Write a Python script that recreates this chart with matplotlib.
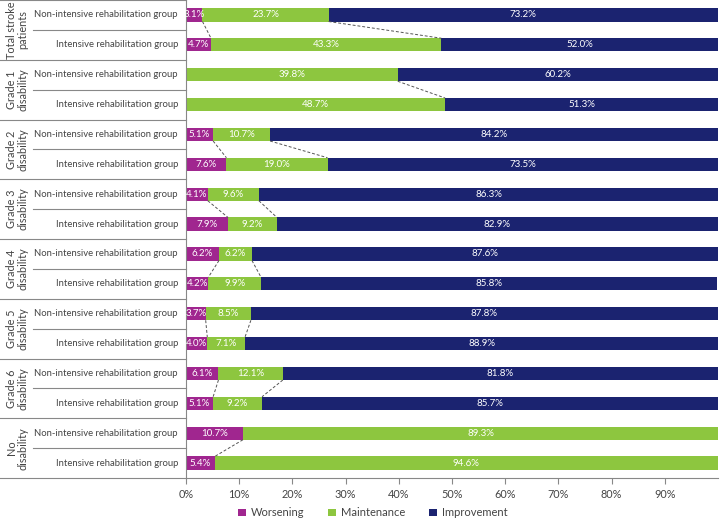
import matplotlib.pyplot as plt
import matplotlib.transforms as mtransforms
import numpy as np

plt.rcParams['font.family'] = ['Lato', 'DejaVu Sans']

groups = ["Total stroke\npatients", "Grade 1\ndisability", "Grade 2\ndisability",
          "Grade 3\ndisability", "Grade 4\ndisability", "Grade 5\ndisability",
          "Grade 6\ndisability", "No\ndisability"]
rows = ["Non-intensive rehabilitation group", "Intensive rehabilitation group"]

worsening = [3.1, 4.7, 0, 0, 5.1, 7.6, 4.1, 7.9, 6.2, 4.2, 3.7, 4.0, 6.1, 5.1, 10.7, 5.4]
maintenance = [23.7, 43.3, 39.8, 48.7, 10.7, 19.0, 9.6, 9.2, 6.2, 9.9, 8.5, 7.1, 12.1, 9.2, 89.3, 94.6]
improvement = [73.2, 52.0, 60.2, 51.3, 84.2, 73.5, 86.3, 82.9, 87.6, 85.8, 87.8, 88.9, 81.8, 85.7, 0, 0]

series = ["Worsening", "Maintenance", "Improvement"]
colors = ["#a0268f", "#8dc63f", "#1b2370"]

fig = plt.figure(figsize=(7.2, 5.22), dpi=100)
ax = fig.add_axes([186 / 720, 1 - 478 / 522, 532 / 720, 478 / 522])

y = np.arange(len(worsening))
h = 0.44
data = [np.array(worsening), np.array(maintenance), np.array(improvement)]
left = np.zeros(len(y))
for vals, col, name in zip(data, colors, series):
    ax.barh(y, vals, left=left, height=h, color=col, label=name)
    for yi, v, l in zip(y, vals, left):
        if v > 0:
            ax.text(l + v / 2, yi, f"{v:.1f}%", ha="center", va="center",
                    color="white", fontsize=7)
    left = left + vals

# dashed connectors between paired bars
cum1 = data[0]
cum2 = data[0] + data[1]
for g in range(len(groups)):
    a, b = 2 * g, 2 * g + 1
    for cum in (cum1, cum2):
        if 0 < cum[a] < 99.9 or 0 < cum[b] < 99.9:
            ax.plot([cum[a], cum[b]], [a + h / 2, b - h / 2], ls=(0, (3, 2)),
                    color="#555555", lw=0.7)

ax.set_xlim(0, 100)
ax.set_ylim(len(y) - 0.5, -0.5)
ax.set_yticks([])
ax.set_xticks(np.arange(0, 100, 10))
ax.set_xticklabels([f"{t}%" for t in range(0, 100, 10)], fontsize=7.8, color="#444444")
ax.tick_params(axis="x", length=4, color="#888888", pad=4)
for s in ["top", "right"]:
    ax.spines[s].set_visible(False)
for s in ["left", "bottom"]:
    ax.spines[s].set_color("#888888")
    ax.spines[s].set_linewidth(0.8)

# left table of labels
tr = mtransforms.blended_transform_factory(fig.transFigure, ax.transData)
x_box = 186 / 720
x_mid = 33 / 720
for g in range(len(groups)):
    top = 2 * g - 0.5
    ax.plot([0, x_box], [top, top], transform=tr, color="#888888", lw=0.8, clip_on=False)
    ax.plot([x_mid, x_box], [top + 1, top + 1], transform=tr, color="#888888", lw=0.8,
            clip_on=False)
    ax.text(17 / 720, 2 * g + 0.5, groups[g], transform=tr, rotation=90, ha="center",
            va="center", fontsize=7.8, color="#444444", linespacing=1.1)
    for r in range(2):
        ax.text(178 / 720, 2 * g + r, rows[r], transform=tr, ha="right", va="center",
                fontsize=6.8, color="#444444")
ax.plot([0, x_box], [len(y) - 0.5, len(y) - 0.5], transform=tr, color="#888888", lw=0.8,
        clip_on=False)

fig.legend(loc="lower center", bbox_to_anchor=(373 / 720, -0.01), ncol=3, frameon=False,
           fontsize=8, handlelength=0.7, handleheight=0.7, handletextpad=0.5,
           columnspacing=2.1, labelcolor="#444444", borderpad=0.3)

fig.savefig("out.png", dpi=100)
